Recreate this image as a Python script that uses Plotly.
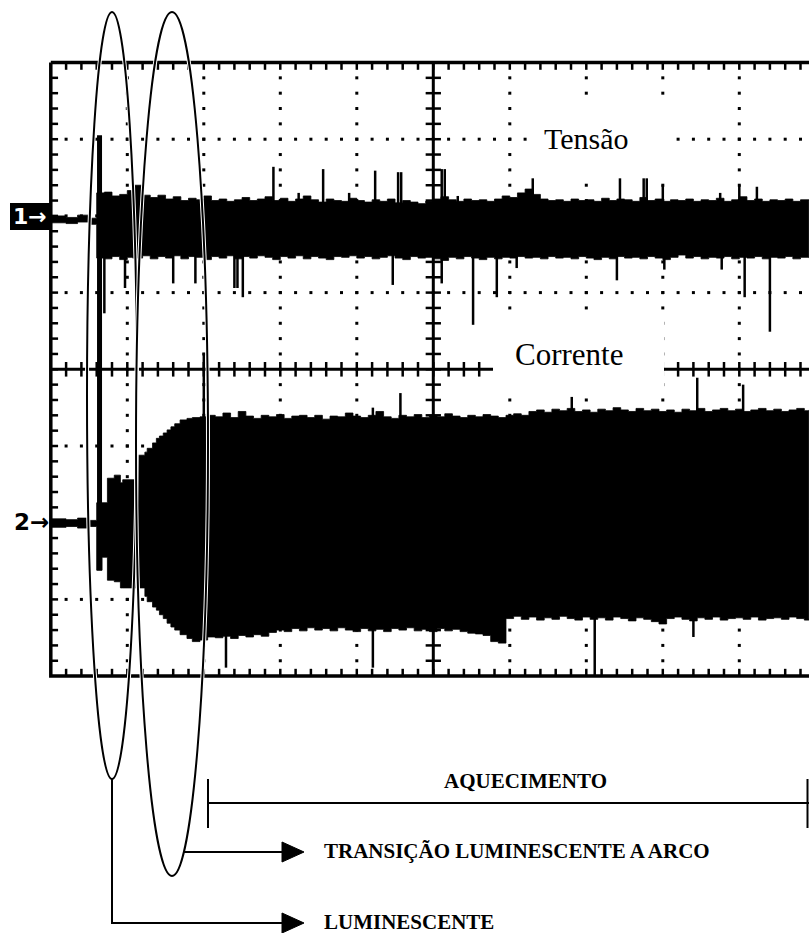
import numpy as np
import plotly.graph_objects as go

# ---------------- data (oscilloscope screen divisions) ----------------
# Channel 1 - Tensão : time (div), upper / lower envelope (div)
V_T = [0.00, 0.20, 0.35, 0.50, 0.60, 0.70, 0.80, 0.90, 1.00, 1.07, 1.20, 1.30, 1.40, 1.50,
       1.60, 1.70, 1.80, 1.90, 2.00, 2.10, 2.20, 2.30, 2.40, 2.50, 2.60, 2.70, 2.80, 2.90,
       3.00, 3.10, 3.20, 3.30, 3.40, 3.50, 3.60, 3.70, 3.80, 3.90, 4.00, 4.10, 4.20, 4.30,
       4.40, 4.50, 4.60, 4.70, 4.80, 4.90, 5.00, 5.10, 5.20, 5.30, 5.40, 5.50, 5.60, 5.70,
       5.80, 5.90, 6.00, 6.10, 6.20, 6.30, 6.40, 6.50, 6.60, 6.70, 6.80, 6.90, 7.00, 7.10,
       7.20, 7.30, 7.40, 7.50, 7.60, 7.70, 7.80, 7.90, 8.00, 8.10, 8.20, 8.30, 8.40, 8.50,
       8.60, 8.70, 8.80, 8.90, 9.00, 9.10, 9.20, 9.30, 9.40, 9.50, 9.60, 9.70, 9.80, 9.91]
V_HI = [2.00, 1.98, 2.01, 1.97, 2.30, 2.31, 2.26, 2.28, 2.33, 2.40, 2.27, 2.24, 2.27, 2.22,
        2.25, 2.20, 2.23, 2.21, 2.26, 2.20, 2.22, 2.19, 2.21, 2.24, 2.20, 2.22, 2.25, 2.20,
        2.23, 2.19, 2.22, 2.26, 2.21, 2.18, 2.22, 2.20, 2.19, 2.23, 2.20, 2.18, 2.21, 2.19,
        2.22, 2.17, 2.20, 2.18, 2.16, 2.19, 2.22, 2.25, 2.21, 2.19, 2.22, 2.20, 2.21, 2.19,
        2.22, 2.26, 2.24, 2.30, 2.35, 2.28, 2.22, 2.20, 2.21, 2.19, 2.22, 2.20, 2.21, 2.19,
        2.23, 2.20, 2.22, 2.21, 2.19, 2.24, 2.20, 2.22, 2.19, 2.21, 2.20, 2.22, 2.19, 2.21,
        2.20, 2.23, 2.19, 2.21, 2.25, 2.20, 2.22, 2.19, 2.21, 2.20, 2.22, 2.19, 2.21, 2.20]
V_LO = [1.91, 1.90, 1.92, 1.89, 1.45, 1.44, 1.47, 1.43, 1.46, 1.45, 1.48, 1.44, 1.47, 1.45,
        1.48, 1.44, 1.47, 1.46, 1.43, 1.47, 1.45, 1.48, 1.44, 1.47, 1.45, 1.48, 1.46, 1.43,
        1.47, 1.45, 1.48, 1.44, 1.47, 1.45, 1.43, 1.47, 1.46, 1.48, 1.45, 1.47, 1.44, 1.46,
        1.48, 1.45, 1.43, 1.47, 1.45, 1.46, 1.44, 1.42, 1.46, 1.44, 1.47, 1.45, 1.43, 1.46,
        1.44, 1.46, 1.45, 1.47, 1.45, 1.46, 1.44, 1.47, 1.45, 1.46, 1.44, 1.47, 1.45, 1.43,
        1.46, 1.44, 1.47, 1.45, 1.46, 1.44, 1.47, 1.45, 1.43, 1.46, 1.49, 1.45, 1.47, 1.44,
        1.46, 1.45, 1.47, 1.44, 1.46, 1.45, 1.47, 1.44, 1.46, 1.45, 1.47, 1.44, 1.46, 1.45]
# isolated voltage spikes
V_UP_T = [2.91, 3.24, 3.56, 3.90, 4.24, 4.54, 4.58, 5.11, 5.15, 5.32, 6.30, 7.44, 7.75, 7.79,
          8.00, 8.75, 9.00, 9.23]
V_UP_Y = [2.64, 2.30, 2.61, 2.30, 2.59, 2.57, 2.57, 2.61, 2.61, 2.26, 2.49, 2.49, 2.49, 2.49,
          2.40, 2.30, 2.40, 2.38]
V_DN_T = [0.70, 0.97, 1.60, 1.89, 2.40, 2.44, 2.51, 4.47, 5.11, 5.52, 5.83, 6.09, 7.40, 8.02,
          8.77, 9.07, 9.40]
V_DN_Y = [0.73, 1.06, 1.12, 1.12, 1.06, 1.06, 0.94, 1.10, 1.12, 0.58, 0.94, 1.32, 1.16, 1.30,
          1.30, 0.94, 0.49]
# switching transient at the start of the discharge
TR_T = [0.637]
TR_TOP = [3.05]
TR_BOT = [-2.62]

# Channel 2 - Corrente
I_T = [0.00, 0.20, 0.35, 0.50, 0.60, 0.67, 0.74, 0.83, 0.91, 0.94, 1.10, 1.14, 1.23, 1.26,
       1.33, 1.38, 1.42, 1.47, 1.52, 1.57, 1.62, 1.69, 1.78, 1.85, 1.95, 2.05, 2.15, 2.25,
       2.35, 2.45, 2.55, 2.65, 2.75, 2.85, 2.95, 3.05, 3.15, 3.25, 3.35, 3.45, 3.55, 3.65,
       3.75, 3.85, 3.95, 4.05, 4.15, 4.25, 4.35, 4.45, 4.55, 4.65, 4.75, 4.85, 4.95, 5.05,
       5.15, 5.25, 5.35, 5.45, 5.55, 5.65, 5.75, 5.85, 5.95, 6.05, 6.15, 6.25, 6.35, 6.45,
       6.55, 6.65, 6.75, 6.85, 6.95, 7.05, 7.15, 7.25, 7.35, 7.45, 7.55, 7.65, 7.75, 7.85,
       7.95, 8.05, 8.15, 8.25, 8.35, 8.45, 8.55, 8.65, 8.75, 8.85, 8.95, 9.05, 9.15, 9.25,
       9.35, 9.45, 9.55, 9.65, 9.75, 9.85, 9.91]
I_HI = [-1.95, -1.96, -1.94, -1.97, -1.74, -1.74, -1.42, -1.38, -1.48, -1.44, -1.43, -1.12,
        -1.08, -1.03, -0.96, -0.90, -0.87, -0.83, -0.79, -0.75, -0.71, -0.66, -0.64, -0.63,
        -0.62, -0.60, -0.62, -0.57, -0.63, -0.55, -0.61, -0.64, -0.60, -0.62, -0.59, -0.64,
        -0.61, -0.60, -0.63, -0.60, -0.65, -0.61, -0.62, -0.57, -0.61, -0.63, -0.60, -0.55,
        -0.62, -0.64, -0.60, -0.62, -0.59, -0.63, -0.60, -0.62, -0.58, -0.61, -0.63, -0.60,
        -0.62, -0.59, -0.61, -0.63, -0.60, -0.58, -0.60, -0.55, -0.53, -0.56, -0.52, -0.54,
        -0.51, -0.55, -0.53, -0.56, -0.52, -0.54, -0.50, -0.53, -0.55, -0.51, -0.54, -0.52,
        -0.55, -0.53, -0.56, -0.52, -0.54, -0.51, -0.55, -0.53, -0.51, -0.54, -0.52, -0.55,
        -0.53, -0.51, -0.54, -0.52, -0.55, -0.53, -0.51, -0.54, -0.53]
I_LO = [-2.06, -2.05, -2.07, -2.05, -2.62, -2.45, -2.75, -2.77, -2.85, -2.85, -2.85, -2.85,
        -2.96, -3.03, -3.10, -3.14, -3.20, -3.25, -3.31, -3.36, -3.40, -3.46, -3.51, -3.55,
        -3.53, -3.49, -3.50, -3.48, -3.51, -3.47, -3.49, -3.46, -3.48, -3.43, -3.40, -3.42,
        -3.38, -3.41, -3.37, -3.40, -3.38, -3.41, -3.37, -3.40, -3.42, -3.38, -3.41, -3.39,
        -3.42, -3.38, -3.40, -3.37, -3.41, -3.39, -3.42, -3.38, -3.41, -3.39, -3.42, -3.44,
        -3.45, -3.47, -3.55, -3.57, -3.25, -3.22, -3.26, -3.23, -3.27, -3.24, -3.26, -3.22,
        -3.25, -3.27, -3.23, -3.26, -3.24, -3.27, -3.23, -3.25, -3.28, -3.24, -3.26, -3.29,
        -3.32, -3.25, -3.23, -3.26, -3.28, -3.24, -3.26, -3.23, -3.27, -3.25, -3.24, -3.26,
        -3.23, -3.27, -3.25, -3.24, -3.26, -3.23, -3.25, -3.27, -3.25]
I_UP_T = [2.00, 4.21, 4.57, 6.81, 8.45, 9.05]
I_UP_Y = [0.21, -0.50, -0.31, -0.36, -0.11, -0.20]
I_DN_T = [2.29, 4.21, 7.11, 8.40]
I_DN_Y = [-3.89, -3.89, -4.00, -3.49]

CH1_MID = 1.85
CH2_MID = -2.00

# ---------------- screen geometry ----------------
W, H = 809, 933
X0, XD = 50.8, 76.5      # pixel of x=0 div, pixels per div
Y0, YD = 369.3, 76.7     # pixel of y=0 div, pixels per div


def px(x):
    return (x - X0) / XD


def py(y):
    return (Y0 - y) / YD


fig = go.Figure()
BLACK = "#000000"

# ---- dotted graticule ----
minor = np.round(np.arange(0.2, 10.0, 0.2), 2)
minor_y = np.round(np.arange(-3.8, 4.0, 0.2), 2)
gx, gy = [], []
for xv in [1, 2, 3, 4, 6, 7, 8, 9]:
    for yv in minor_y:
        gx.append(xv); gy.append(yv)
for yv in [-3, -2, -1, 1, 2, 3]:
    for xv in minor:
        gx.append(xv); gy.append(yv)
fig.add_trace(go.Scatter(x=gx, y=gy, mode="markers", hoverinfo="skip",
                         marker=dict(symbol="square", size=3, color=BLACK, line=dict(width=0))))

# ---- ticks on borders and centre axes ----
tx, ty = [], []
tl = 0.095
for xv in minor:
    tx += [xv, xv, None, xv, xv, None, xv, xv, None]
    ty += [4, 4 - tl, None, -4, -4 + tl, None, -tl, tl, None]
for yv in minor_y:
    tx += [0, tl, None, 5 - 0.1, 5 + 0.1, None]
    ty += [yv, yv, None, yv, yv, None]
fig.add_trace(go.Scatter(x=tx, y=ty, mode="lines", hoverinfo="skip",
                         line=dict(color=BLACK, width=2.5)))

# ---- frame and centre lines ----
fig.add_trace(go.Scatter(x=[0, 10, 10, 0, 0], y=[4, 4, -4, -4, 4], mode="lines",
                         hoverinfo="skip", line=dict(color=BLACK, width=3.5)))
fig.add_trace(go.Scatter(x=[0, 10, None, 5, 5], y=[0, 0, None, -4, 4], mode="lines",
                         hoverinfo="skip", line=dict(color=BLACK, width=3)))

# ---- white label panels ----
for (xa, xb, ya, yb) in [(532, 676, 100, 176), (493, 664, 318, 393)]:
    fig.add_trace(go.Scatter(x=[px(xa), px(xb), px(xb), px(xa), px(xa)],
                             y=[py(ya), py(ya), py(yb), py(yb), py(ya)],
                             mode="lines", fill="toself", fillcolor="white",
                             line=dict(width=0, color="white"), hoverinfo="skip"))


def band(t, hi, lo):
    fig.add_trace(go.Scatter(x=t, y=lo, mode="lines", line=dict(width=0.8, color=BLACK, shape="hv"),
                             hoverinfo="skip"))
    fig.add_trace(go.Scatter(x=t, y=hi, mode="lines", fill="tonexty", fillcolor=BLACK,
                             line=dict(width=0.8, color=BLACK, shape="hv"), hoverinfo="skip"))


def spikes(t, tip, mid, width=2.5):
    xs, ys = [], []
    for a, b in zip(t, tip):
        xs += [a, a, None]
        ys += [mid, b, None]
    fig.add_trace(go.Scatter(x=xs, y=ys, mode="lines", hoverinfo="skip",
                             line=dict(color=BLACK, width=width)))


band(V_T, V_HI, V_LO)
band(I_T, I_HI, I_LO)
spikes(V_UP_T, V_UP_Y, CH1_MID)
spikes(V_DN_T, V_DN_Y, CH1_MID)
spikes(I_UP_T, I_UP_Y, CH2_MID)
spikes(I_DN_T, I_DN_Y, CH2_MID)
xs, ys = [], []
for a, b, c in zip(TR_T, TR_TOP, TR_BOT):
    xs += [a, a, None]; ys += [c, b, None]
fig.add_trace(go.Scatter(x=xs, y=ys, mode="lines", hoverinfo="skip",
                         line=dict(color=BLACK, width=5)))

# ---------------- annotations / decorations ----------------
shapes = []
# ellipses (white halo + black outline)
for (cx, cy_top, cy_bot, a) in [(112, 12, 779, 25), (172, 12, 876, 36)]:
    for col, wd in [("white", 4), (BLACK, 2)]:
        shapes.append(dict(type="circle", xref="x", yref="y",
                           x0=px(cx - a), x1=px(cx + a), y0=py(cy_bot), y1=py(cy_top),
                           line=dict(color=col, width=wd)))
# channel-1 marker box
shapes.append(dict(type="rect", xref="x", yref="y", x0=px(10), x1=px(50), y0=py(230), y1=py(203),
                   fillcolor=BLACK, line=dict(width=0)))
# AQUECIMENTO interval
for (xa, ya, xb, yb) in [(208, 803, 809, 803), (208, 779, 208, 828), (807.5, 779, 807.5, 828)]:
    shapes.append(dict(type="line", xref="x", yref="y", x0=px(xa), y0=py(ya), x1=px(xb), y1=py(yb),
                       line=dict(color=BLACK, width=2)))
# transition arrow
shapes.append(dict(type="line", xref="x", yref="y", x0=px(184), y0=py(852), x1=px(284), y1=py(852),
                   line=dict(color=BLACK, width=2)))
# luminescent leader
shapes.append(dict(type="path", xref="x", yref="y",
                   path=f"M {px(112)},{py(779)} L {px(112)},{py(923)} L {px(284)},{py(923)}",
                   line=dict(color=BLACK, width=2)))
for yc in [852, 923]:
    shapes.append(dict(type="path", xref="x", yref="y",
                       path=f"M {px(282)},{py(yc-10)} L {px(304)},{py(yc)} L {px(282)},{py(yc+10)} Z",
                       fillcolor=BLACK, line=dict(color=BLACK, width=1)))

serif = "Liberation Serif, Times New Roman, serif"
ann = []
ann.append(dict(x=px(586), y=py(138), text="Tensão", showarrow=False,
                font=dict(family=serif, size=30, color=BLACK)))
ann.append(dict(x=px(569), y=py(354), text="Corrente", showarrow=False,
                font=dict(family=serif, size=31, color=BLACK)))
ann.append(dict(x=px(525), y=py(781), text="<b>AQUECIMENTO</b>", showarrow=False,
                font=dict(family=serif, size=21, color=BLACK)))
ann.append(dict(x=px(322), y=py(851), text="<b>TRANSIÇÃO LUMINESCENTE A ARCO</b>", showarrow=False,
                xanchor="left", font=dict(family=serif, size=21, color=BLACK)))
ann.append(dict(x=px(322), y=py(922), text="<b>LUMINESCENTE</b>", showarrow=False,
                xanchor="left", font=dict(family=serif, size=21, color=BLACK)))
ann.append(dict(x=px(30), y=py(216.5), text="<b>1→</b>", showarrow=False,
                font=dict(family="DejaVu Sans", size=22, color="white")))
ann.append(dict(x=px(31), y=py(522), text="<b>2→</b>", showarrow=False,
                font=dict(family="DejaVu Sans", size=23, color=BLACK)))

fig.update_layout(
    width=W, height=H, margin=dict(l=0, r=0, t=0, b=0),
    paper_bgcolor="white", plot_bgcolor="white", showlegend=False,
    xaxis=dict(range=[px(0), px(W)], visible=False, fixedrange=True),
    yaxis=dict(range=[py(H), py(0)], visible=False, fixedrange=True),
    shapes=shapes, annotations=ann,
)
fig.write_html("out.html")
